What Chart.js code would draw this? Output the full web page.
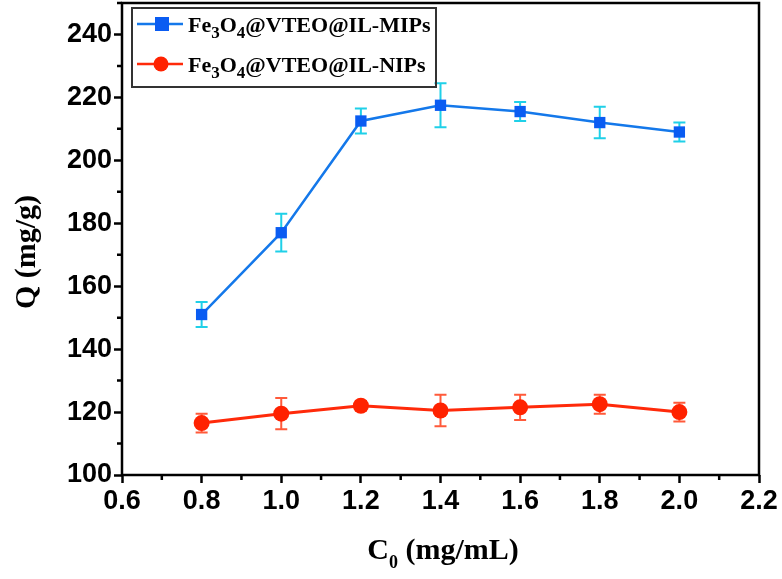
<!DOCTYPE html>
<html>
<head>
<meta charset="utf-8">
<script src="https://cdn.jsdelivr.net/npm/chart.js@4.4.0/dist/chart.umd.min.js"></script>
<style>
  html, body { margin: 0; padding: 0; background: #fff; }
  #wrap { width: 782px; height: 579px; }
</style>
</head>
<body>
<div id="wrap"><canvas id="myChart" width="782" height="579"></canvas></div>
<script>
// data
var concentrations = [0.8, 1.0, 1.2, 1.4, 1.6, 1.8, 2.0];
var mipValues = [151, 177, 212.5, 217.5, 215.5, 212, 209];
var mipErrors = [4, 6, 4, 7, 3, 5, 3];
var nipValues = [116.5, 119.5, 122, 120.5, 121.5, 122.5, 120];
var nipErrors = [3, 5, 1.5, 5, 4, 3, 3];
var legendLabels = ['MIPs', 'NIPs'];
var xMinorTicks = [0.7, 0.9, 1.1, 1.3, 1.5, 1.7, 1.9, 2.1];
var yMinorTicks = [110, 130, 150, 170, 190, 210, 230, 250];

var tickFont = { family: 'Liberation Sans', size: 27, weight: 'bold' };
var serif = 'Liberation Serif';

function points(values) {
    return concentrations.map(function (x, i) { return { x: x, y: values[i] }; });
}

// error bars drawn through the scales
var errorBars = {
    id: 'errorBars',
    beforeDatasetsDraw: function (chart) {
        var ctx = chart.ctx, xs = chart.scales.x, ys = chart.scales.y;
        chart.data.datasets.forEach(function (ds) {
            ctx.save();
            ctx.strokeStyle = ds.errColor;
            ctx.lineWidth = 2;
            ds.data.forEach(function (p, i) {
                var x = xs.getPixelForValue(p.x);
                var top = ys.getPixelForValue(p.y + ds.errors[i]);
                var bot = ys.getPixelForValue(p.y - ds.errors[i]);
                ctx.beginPath();
                ctx.moveTo(x, top); ctx.lineTo(x, bot);
                ctx.moveTo(x - 6, top); ctx.lineTo(x + 6, top);
                ctx.moveTo(x - 6, bot); ctx.lineTo(x + 6, bot);
                ctx.stroke();
            });
            ctx.restore();
        });
    }
};

// frame, minor ticks, axis titles with subscripts, legend box
var decorations = {
    id: 'decorations',
    afterDraw: function (chart) {
        var ctx = chart.ctx, a = chart.chartArea, xs = chart.scales.x, ys = chart.scales.y;
        ctx.save();
        ctx.strokeStyle = '#000';
        ctx.lineWidth = 2.5;
        ctx.strokeRect(a.left, a.top, a.right - a.left, a.bottom - a.top);

        ctx.beginPath();
        xMinorTicks.forEach(function (v) {
            var x = xs.getPixelForValue(v);
            ctx.moveTo(x, a.bottom); ctx.lineTo(x, a.bottom + 5);
        });
        yMinorTicks.forEach(function (v) {
            var y = ys.getPixelForValue(v);
            ctx.moveTo(a.left, y); ctx.lineTo(a.left - 5, y);
        });
        ctx.stroke();

        ctx.fillStyle = '#000';
        ctx.textBaseline = 'alphabetic';
        // x title
        ctx.font = 'bold 30px ' + serif;
        var w1 = ctx.measureText('C').width;
        ctx.font = 'bold 18px ' + serif;
        var w2 = ctx.measureText('0').width;
        ctx.font = 'bold 30px ' + serif;
        var w3 = ctx.measureText(' (mg/mL)').width;
        var x0 = 443 - (w1 + w2 + w3) / 2;
        ctx.fillText('C', x0, 559);
        ctx.font = 'bold 18px ' + serif;
        ctx.fillText('0', x0 + w1, 568);
        ctx.font = 'bold 30px ' + serif;
        ctx.fillText(' (mg/mL)', x0 + w1 + w2, 559);

        // y title
        ctx.save();
        ctx.translate(35, 252);
        ctx.rotate(-Math.PI / 2);
        ctx.textAlign = 'center';
        ctx.fillText('Q (mg/g)', 0, 0);
        ctx.restore();

        // legend
        ctx.lineWidth = 2;
        ctx.strokeStyle = '#333';
        ctx.strokeRect(132, 8, 304, 79);
        chart.data.datasets.forEach(function (ds, i) {
            var y = 24 + i * 40;
            ctx.strokeStyle = ds.borderColor;
            ctx.lineWidth = 2.5;
            ctx.beginPath(); ctx.moveTo(137, y); ctx.lineTo(183, y); ctx.stroke();
            ctx.fillStyle = ds.pointBackgroundColor;
            if (ds.pointStyle === 'rect') {
                ctx.fillRect(155, y - 7, 14, 14);
            } else {
                ctx.beginPath(); ctx.arc(161, y, 7.5, 0, Math.PI * 2); ctx.fill();
            }
            ctx.fillStyle = '#000';
            var tx = 188, by = y + 8;
            var parts = [['Fe', 0], ['3', 1], ['O', 0], ['4', 1], ['@VTEO@IL-' + legendLabels[i], 0]];
            parts.forEach(function (p) {
                ctx.font = p[1] ? 'bold 17px ' + serif : 'bold 22px ' + serif;
                ctx.fillText(p[0], tx, p[1] ? by + 6 : by);
                tx += ctx.measureText(p[0]).width;
            });
        });
        ctx.restore();
    }
};

var ctx = document.getElementById('myChart').getContext('2d');
var chart = new Chart(ctx, {
    type: 'line',
    data: {
        datasets: [{
            label: 'Fe3O4@VTEO@IL-MIPs',
            data: points(mipValues),
            errors: mipErrors,
            errColor: '#1fd0e8',
            borderColor: '#1478ea',
            borderWidth: 2.5,
            pointStyle: 'rect',
            pointRadius: 8,
            pointBackgroundColor: '#0a5cf2',
            pointBorderColor: '#0a5cf2',
            pointBorderWidth: 0
        }, {
            label: 'Fe3O4@VTEO@IL-NIPs',
            data: points(nipValues),
            errors: nipErrors,
            errColor: '#ff5a3a',
            borderColor: '#ff2a0a',
            borderWidth: 3,
            pointStyle: 'circle',
            pointRadius: 8,
            pointBackgroundColor: '#ff2200',
            pointBorderColor: '#ff2200',
            pointBorderWidth: 0
        }]
    },
    options: {
        responsive: false,
        animation: false,
        layout: { autoPadding: false, padding: { top: 3, right: 23, left: 0, bottom: 0 } },
        plugins: { legend: { display: false }, tooltip: { enabled: false } },
        scales: {
            x: {
                type: 'linear',
                min: 0.6, max: 2.2,
                afterFit: function (s) { s.height = 104; s.paddingLeft = 0; s.paddingRight = 0; },
                ticks: {
                    stepSize: 0.2,
                    autoSkip: false,
                    maxRotation: 0,
                    color: '#000',
                    font: tickFont,
                    padding: 2,
                    callback: function (v) { return (Math.round(v * 10) / 10).toFixed(1); }
                },
                grid: { drawOnChartArea: false, tickLength: 8, tickWidth: 2.5, tickColor: '#000' },
                border: { display: false }
            },
            y: {
                min: 100, max: 250,
                afterFit: function (s) { s.width = 122; s.paddingTop = 0; s.paddingBottom = 0; },
                ticks: {
                    stepSize: 20,
                    autoSkip: false,
                    color: '#000',
                    font: tickFont,
                    padding: 2,
                    callback: function (v) { return v < 250 ? v : ''; }
                },
                grid: {
                    drawOnChartArea: false, tickLength: 8, tickWidth: 2.5,
                    tickColor: function (c) { return c.tick && c.tick.value >= 250 ? 'rgba(0,0,0,0)' : '#000'; }
                },
                border: { display: false }
            }
        }
    },
    plugins: [errorBars, decorations]
});
</script>
</body>
</html>
